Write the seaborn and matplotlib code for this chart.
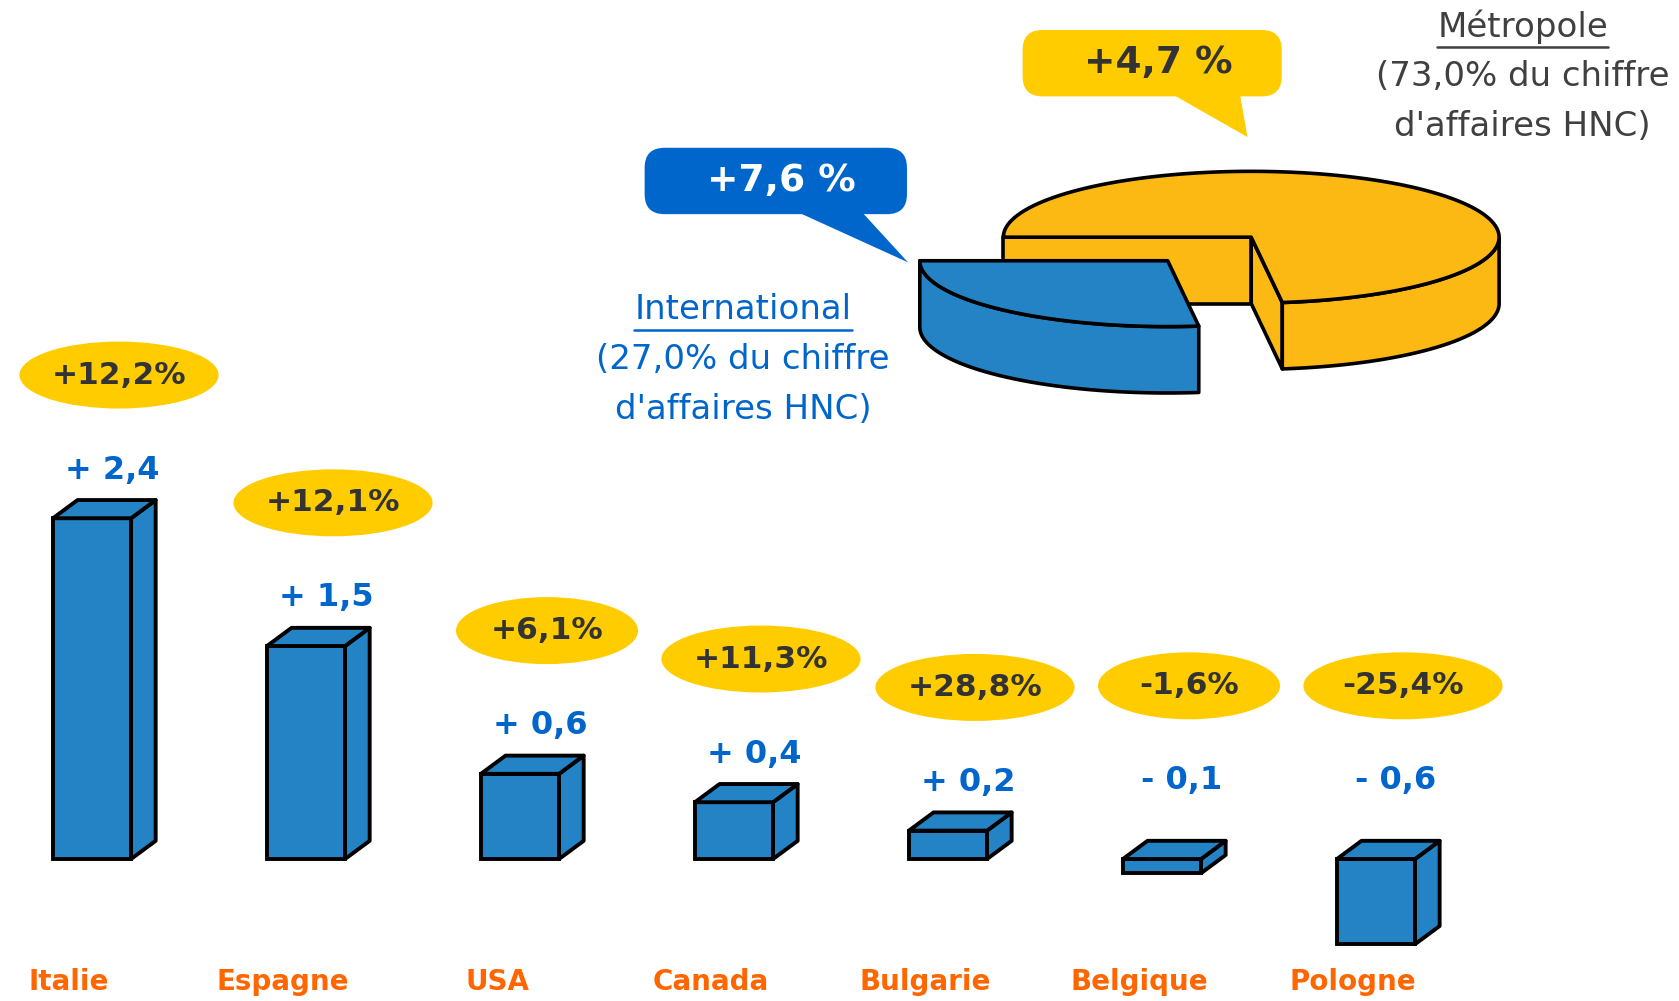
import matplotlib
matplotlib.use('Agg')
import matplotlib.pyplot as plt
import matplotlib.patches as mpatches
import numpy as np
import pandas as pd
import seaborn as sns

# bars: change in turnover by country
countries = ['Italie', 'Espagne', 'USA', 'Canada', 'Bulgarie', 'Belgique', 'Pologne']
ca_change = [2.4, 1.5, 0.6, 0.4, 0.2, -0.1, -0.6]
ca_labels = ['+ 2,4', '+ 1,5', '+ 0,6', '+ 0,4', '+ 0,2', '- 0,1', '- 0,6']
growth_labels = ['+12,2%', '+12,1%', '+6,1%', '+11,3%', '+28,8%', '-1,6%', '-25,4%']

# pie: split of HNC turnover
segments = ['International', 'Métropole']
segment_share = [27.0, 73.0]
segment_growth = ['+7,6 %', '+4,7 %']

BLUE = '#2383C4'
PIE_ORANGE = '#FDB913'
YELLOW = '#FFCC00'
LABEL_BLUE = '#0066CC'
ORANGE = '#FF6600'
DARK = '#333333'
GREY = '#404040'

W, H = 1679, 1001
sc = W / 1568

sns.set_style('white')
fig = plt.figure(figsize=(W / 100, H / 100), dpi=100)

# bar axes covering the whole figure
ax = fig.add_axes([0, 0, 1, 1])
df = pd.DataFrame({'pays': countries, 'ca': ca_change})
sns.barplot(data=df, x='pays', y='ca', order=countries, color=BLUE, saturation=1,
            width=0.365, edgecolor='black', linewidth=2.8, errorbar=None, ax=ax)
xmin, xmax = -0.43, 7.416
ymin, ymax = -1.0, 6.05
ax.set_xlim(xmin, xmax)
ax.set_ylim(ymin, ymax)
ax.axis('off')
sx = W / (xmax - xmin)
sy = H / (ymax - ymin)

def to_px(x, y):
    return (x - xmin) * sx, (ymax - y) * sy

# 3D depth of the boxes
ddx = 24.6 / sx
ddy = 18.2 / sy
for bar in ax.patches:
    x0 = bar.get_x()
    x1 = x0 + bar.get_width()
    y0 = min(bar.get_y(), bar.get_y() + bar.get_height())
    y1 = max(bar.get_y(), bar.get_y() + bar.get_height())
    top = mpatches.Polygon([(x0, y1), (x0 + ddx, y1 + ddy), (x1 + ddx, y1 + ddy), (x1, y1)],
                           closed=True, fc=BLUE, ec='black', lw=2.8, joinstyle='round')
    side = mpatches.Polygon([(x1, y0), (x1 + ddx, y0 + ddy), (x1 + ddx, y1 + ddy), (x1, y1)],
                            closed=True, fc=BLUE, ec='black', lw=2.8, joinstyle='round')
    ax.add_patch(side)
    ax.add_patch(top)

# overlay axes in pixel coordinates
ov = fig.add_axes([0, 0, 1, 1], facecolor='none')
ov.set_xlim(0, W)
ov.set_ylim(H, 0)
ov.axis('off')

for i, (v, lab, g) in enumerate(zip(ca_change, ca_labels, growth_labels)):
    bx, by = to_px(i, max(v, 0))
    ytop = by - 18.2
    ly = ytop - (30 if v > 0 else 60)
    ov.text(bx + 20, ly, lab, color=LABEL_BLUE, fontsize=23, fontweight='bold',
            ha='center', va='center')
    ey = ly - 95
    ew = (16 * len(g) + 90) * sc
    ov.add_patch(mpatches.Ellipse((bx + 27, ey), ew, 67, fc=YELLOW, ec='none'))
    ov.text(bx + 27, ey, g, color=DARK, fontsize=22.5, fontweight='bold',
            ha='center', va='center')
    ov.text(bx - 23, 982, countries[i], color=ORANGE, fontsize=20, fontweight='bold',
            ha='center', va='center')

# 3D pie
cx, cy = 1168.5 * sc, 221.5 * sc
ra, rb = 231.5 * sc, 61.5 * sc
thick = 62 * sc
explode = {'International': (-78 * sc, 22 * sc), 'Métropole': (0, 0)}
fills = {'International': BLUE, 'Métropole': PIE_ORANGE}

def arc(c0, c1, t0, t1, dz=0, n=120):
    th = np.radians(np.linspace(t0, t1, n))
    return list(zip(c0 + ra * np.cos(th), c1 - rb * np.sin(th) + dz))

angles = []
start = 180.0
for s in segment_share:
    angles.append((start, start + s * 3.6))
    start += s * 3.6

order = [1, 0]  # back slice first
for k in order:
    name = segments[k]
    t0, t1 = angles[k]
    ox, oy = explode[name]
    c0, c1 = cx + ox, cy + oy
    fc = fills[name]
    kw = dict(closed=True, fc=fc, ec='black', lw=2.6, joinstyle='round')
    # cut faces visible from the front
    for t in (t0, t1):
        tm = t % 360
        facing = (tm == 180 and t == t1) or (180 < tm < 360 and t == t0 and tm > 270)
        if facing:
            p = arc(c0, c1, t, t, n=1)[0]
            ov.add_patch(mpatches.Polygon([(c0, c1), p, (p[0], p[1] + thick), (c0, c1 + thick)], **kw))
    # visible outer wall (front half)
    lo = max(t0 % 360 if t0 % 360 >= 180 else 180, 180)
    hi = min(t1 if t1 <= 360 else 360, 360)
    if hi > lo:
        wall = arc(c0, c1, lo, hi) + arc(c0, c1, hi, lo, dz=thick)
        ov.add_patch(mpatches.Polygon(wall, **kw))
    topface = [(c0, c1)] + arc(c0, c1, t0, t1)
    ov.add_patch(mpatches.Polygon(topface, **kw))

# callouts
def callout(x0, y0, x1, y1, base, tip, fc, text, tc):
    ov.add_patch(mpatches.FancyBboxPatch((x0, y0), x1 - x0, y1 - y0,
                 boxstyle='round,pad=0,rounding_size=20', fc=fc, ec='none'))
    ov.add_patch(mpatches.Polygon([(base[0], y1 - 2), (base[1], y1 - 2), tip], closed=True,
                                  fc=fc, ec='none'))
    ov.text((x0 + x1) / 2 + 6, (y0 + y1) / 2, text, color=tc, fontsize=27, fontweight='bold',
            ha='center', va='center')

callout(602 * sc, 138 * sc, 847 * sc, 200 * sc, (745 * sc, 805 * sc), (848 * sc, 245 * sc),
        LABEL_BLUE, segment_growth[0], 'white')
callout(955 * sc, 28 * sc, 1197 * sc, 90 * sc, (1095 * sc, 1158 * sc), (1165 * sc, 128 * sc),
        YELLOW, segment_growth[1], DARK)

# segment captions
def caption(xc, y0, name, share, color):
    lines = [name, '(%s%% du chiffre' % ('%.1f' % share).replace('.', ','), "d'affaires HNC)"]
    for j, ln in enumerate(lines):
        t = ov.text(xc, y0 + j * 50, ln, color=color, fontsize=24.5, ha='center', va='center')
        if j == 0:
            fig.canvas.draw()
            bb = t.get_window_extent(fig.canvas.get_renderer())
            ov.plot([bb.x0, bb.x1], [y0 + 20, y0 + 20], color=color, lw=1.8)

caption(743, 309.5, segments[0], segment_share[0], LABEL_BLUE)
caption(1522.7, 26.8, segments[1], segment_share[1], GREY)

fig.savefig('out.png', dpi=100)
